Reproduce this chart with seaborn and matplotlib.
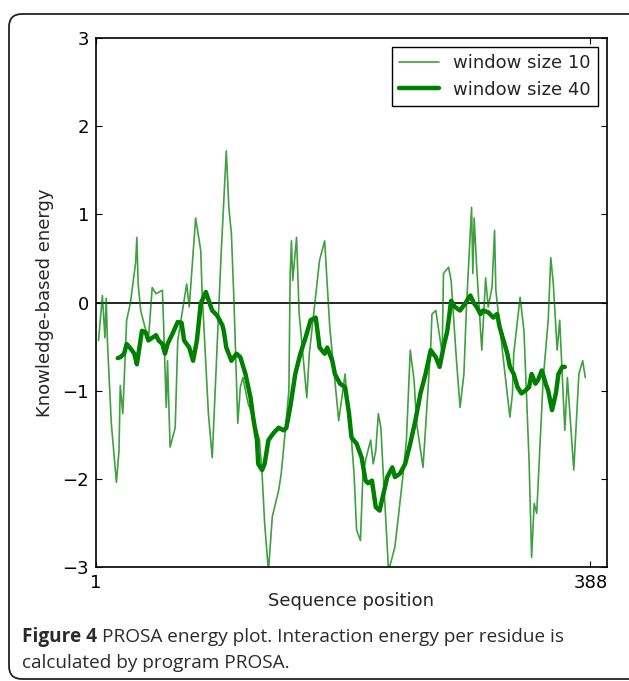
import matplotlib
matplotlib.use('Agg')
import matplotlib.pyplot as plt
import seaborn as sns
import pandas as pd
from matplotlib.patches import FancyBboxPatch

########################################
# DATA
########################################
pos_w10 = [3, 6, 8, 9, 10, 13, 17, 19, 20, 22, 25, 28, 32, 33, 34, 36, 42, 45, 48, 53,
           54, 56, 57, 59, 63, 65, 72, 74, 79, 83, 84, 89, 92, 99, 103, 105, 107, 109, 112, 114,
           116, 120, 124, 129, 131, 133, 136, 139, 144, 146, 149, 152, 153, 154, 155, 158, 160, 162, 166, 168,
           176, 180, 182, 184, 187, 191, 196, 199, 201, 203, 205, 208, 210, 212, 216, 218, 220, 222, 224, 226,
           228, 230, 235, 238, 242, 244, 247, 250, 252, 257, 263, 264, 267, 272, 273, 277, 279, 283, 286, 289,
           291, 295, 296, 297, 299, 303, 306, 308, 311, 313, 314, 320, 325, 327, 328, 333, 336, 340, 342, 344,
           346, 351, 355, 357, 359, 362, 364, 368, 370, 375, 379, 382, 384]
energy_w10 = [-0.43, 0.08, -0.40, 0.05, -0.46, -1.37, -2.04, -1.68, -0.94, -1.26, -0.20, 0.00, 0.45, 0.74, 0.21, -0.09, -0.43, 0.17, 0.10, 0.14,
              -0.28, -1.19, -0.66, -1.64, -1.42, -0.43, 0.21, -0.05, 0.96, 0.59, 0.14, -1.26, -1.76, 0.56, 1.72, 1.08, 0.78, 0.02, -1.37, -0.96,
              -0.85, -1.14, -1.30, -1.56, -1.94, -2.50, -3.05, -2.43, -2.13, -1.94, -1.48, -1.00, 0.33, 0.70, 0.25, 0.74, -0.12, -0.43, -1.08, -0.58,
              0.48, 0.70, 0.21, -0.28, -0.73, -1.34, -0.81, -1.37, -1.56, -1.94, -2.58, -2.70, -1.94, -1.79, -1.56, -1.83, -1.68, -1.26, -1.42, -1.98,
              -2.50, -3.05, -2.77, -2.39, -1.87, -1.56, -0.54, -0.88, -1.37, -1.87, -0.51, -0.13, -0.09, -0.58, 0.33, 0.40, 0.25, -0.62, -1.19, -0.81,
              -0.05, 1.08, 0.33, 0.96, 0.40, -0.54, 0.28, -0.05, 0.17, 0.82, 0.14, -0.66, -1.30, -1.03, -0.58, 0.06, -0.32, -1.79, -2.89, -2.28,
              -2.39, -0.88, -0.20, 0.51, 0.21, -0.54, -0.20, -1.45, -0.85, -1.90, -0.81, -0.66, -0.85]

pos_w40 = [18, 20, 23, 25, 28, 31, 33, 37, 40, 42, 45, 48, 50, 53, 55, 57, 61, 65, 68, 70,
           74, 77, 80, 83, 87, 90, 92, 96, 100, 101, 103, 107, 111, 114, 118, 122, 124, 127, 128, 131,
           133, 136, 140, 144, 148, 150, 153, 157, 161, 165, 169, 173, 174, 176, 180, 182, 186, 188, 192, 196,
           199, 201, 205, 209, 212, 214, 217, 220, 223, 226, 229, 233, 235, 239, 243, 247, 251, 255, 259, 263,
           267, 270, 273, 276, 279, 282, 286, 290, 294, 297, 299, 302, 304, 308, 312, 315, 317, 320, 323, 325,
           328, 331, 334, 337, 340, 342, 345, 347, 350, 353, 355, 358, 361, 363, 366, 368]
energy_w40 = [-0.63, -0.62, -0.58, -0.47, -0.52, -0.58, -0.70, -0.32, -0.34, -0.43, -0.40, -0.37, -0.43, -0.47, -0.58, -0.47, -0.35, -0.22, -0.23, -0.43,
              -0.51, -0.66, -0.43, -0.01, 0.12, -0.01, -0.09, -0.15, -0.26, -0.32, -0.51, -0.66, -0.58, -0.62, -0.81, -1.08, -1.30, -1.56, -1.83, -1.90,
              -1.83, -1.56, -1.48, -1.42, -1.45, -1.42, -1.19, -0.81, -0.58, -0.40, -0.20, -0.17, -0.28, -0.51, -0.58, -0.51, -0.66, -0.81, -0.92, -0.96,
              -1.25, -1.53, -1.60, -1.76, -2.02, -2.05, -2.02, -2.32, -2.36, -2.17, -1.98, -1.87, -1.98, -1.94, -1.83, -1.60, -1.34, -1.03, -0.81, -0.54,
              -0.62, -0.73, -0.51, -0.32, 0.02, -0.05, -0.09, -0.01, 0.08, -0.01, -0.05, -0.13, -0.09, -0.11, -0.17, -0.13, -0.28, -0.43, -0.58, -0.73,
              -0.81, -0.96, -1.03, -1.00, -0.96, -0.81, -0.92, -0.88, -0.77, -0.92, -1.00, -1.22, -1.03, -0.81, -0.73, -0.73]

series_labels = ["window size 10", "window size 40"]
x_ticks = [1, 388]
y_ticks = [-3, -2, -1, 0, 1, 2, 3]

########################################
# PLOT
########################################
sns.set_style("ticks")
plt.rcParams['font.family'] = ['DejaVu Sans']

df10 = pd.DataFrame({"pos": pos_w10, "energy": energy_w10})
df40 = pd.DataFrame({"pos": pos_w40, "energy": energy_w40})

fig = plt.figure(figsize=(6.29, 6.81), dpi=100)
ax = fig.add_axes([0.1526, 0.1674, 0.965 - 0.1526, 0.944 - 0.1674])

green = "#008000"
sns.lineplot(data=df10, x="pos", y="energy", ax=ax, color=green, alpha=0.75,
             linewidth=1.2, label=series_labels[0])
sns.lineplot(data=df40, x="pos", y="energy", ax=ax, color=green,
             linewidth=3.2, label=series_labels[1])
ax.axhline(0, color="black", linewidth=1.2, zorder=1)

ax.set_xlim(1, 401)
ax.set_ylim(-3, 3)
ax.set_xticks(x_ticks)
ax.set_yticks(y_ticks)
ax.set_yticklabels([str(v).replace("-", "\u2212") for v in y_ticks])
ax.tick_params(direction="in", length=4, width=0.8, top=True, right=True,
               labelsize=13, colors="black", pad=5)
ax.set_xlabel("Sequence position", fontsize=13, labelpad=0)
ax.set_ylabel("Knowledge-based energy", fontsize=13, labelpad=6)
for sp in ax.spines.values():
    sp.set_linewidth(1.2)
    sp.set_color("black")

leg = ax.legend(loc="upper right", fontsize=13, frameon=True, fancybox=False,
                edgecolor="black", framealpha=1, handlelength=2.2,
                borderpad=0.4, labelspacing=0.45)
leg.get_frame().set_linewidth(1.0)

# caption box (open to the right, like the journal frame)
box = FancyBboxPatch((0.09, 0.02), 7.0, 6.65,
                     boxstyle="round,pad=0,rounding_size=0.13",
                     transform=fig.dpi_scale_trans, fill=False,
                     edgecolor="#222222", linewidth=1.3, clip_on=False)
fig.patches.append(box)

cap_color = "#2b2b2b"
cap_size = 13.7
t1 = fig.text(22 / 629, 1 - 642 / 681, "Figure 4", fontsize=cap_size, fontweight="bold",
              family="Open Sans", color=cap_color, va="baseline")
fig.canvas.draw()
bb = t1.get_window_extent(renderer=fig.canvas.get_renderer())
x_after = (bb.x1 + 5) / fig.bbox.width
fig.text(x_after, 1 - 642 / 681,
         "PROSA energy plot. Interaction energy per residue is",
         fontsize=cap_size, family="Open Sans", color=cap_color, va="baseline")
fig.text(22 / 629, 1 - 668 / 681, "calculated by program PROSA.",
         fontsize=cap_size, family="Open Sans", color=cap_color, va="baseline")

plt.savefig("out.png", dpi=100)
plt.close()
